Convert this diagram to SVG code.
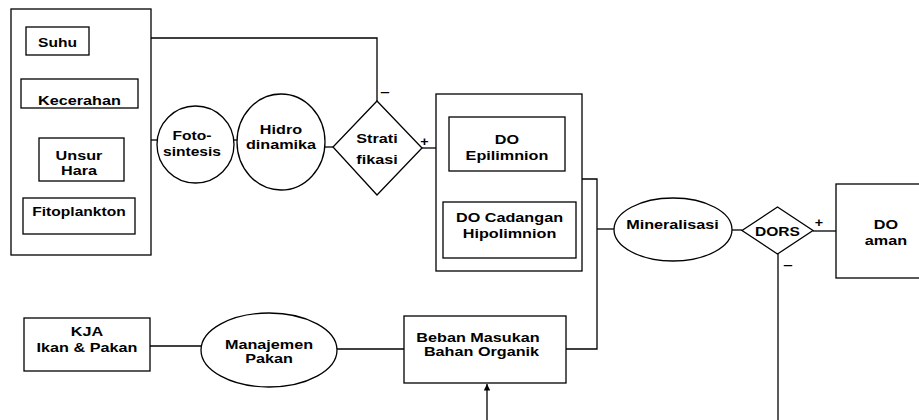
<svg xmlns="http://www.w3.org/2000/svg" width="919" height="420" viewBox="0 0 919 420">
<defs>
<style>
.s{fill:none;stroke:#000;stroke-width:1.3}
.b{fill:#fff;stroke:#000;stroke-width:1.3}
text{font-family:"Liberation Sans",Arial,sans-serif;font-weight:bold;font-size:12px;fill:#000;text-anchor:middle}
.sg{font-size:13px}
</style>
<marker id="ah" viewBox="0 0 10 10" refX="10" refY="5" markerWidth="5" markerHeight="5" orient="auto"><path d="M0,0 L10,5 L0,10 z" fill="#000"/></marker>
</defs>
<rect width="919" height="420" fill="#fff"/>
<g id="connectors" class="s">
<polyline points="89,38 377,38 377,101"/>
<line x1="151" y1="140" x2="157" y2="140"/>
<line x1="233" y1="140" x2="238" y2="140"/>
<line x1="325" y1="147" x2="334" y2="147"/>
<line x1="422" y1="148" x2="436" y2="148"/>
<polyline points="582,179 597,179 597,349 566,349"/>
<line x1="597" y1="229" x2="614" y2="229"/>
<line x1="732" y1="230" x2="742" y2="230"/>
<line x1="813" y1="231" x2="836" y2="231"/>
<line x1="778" y1="254" x2="778" y2="420"/>
<line x1="150" y1="346" x2="201" y2="346"/>
<line x1="337" y1="349" x2="404" y2="349"/>
<line x1="487" y1="420" x2="487" y2="384" marker-end="url(#ah)"/>
</g>
<g id="faktor">
<rect class="b" x="11" y="9" width="140" height="246"/>
</g>
<g id="suhu"><rect class="b" x="26" y="27" width="63" height="28"/>
<text transform="translate(57.5,46.5) scale(1.3,1)">Suhu</text></g>
<g id="kecerahan"><rect class="b" x="21" y="79" width="117" height="29"/>
<text transform="translate(79.5,105) scale(1.35,1)">Kecerahan</text></g>
<g id="unsurhara"><rect class="b" x="39" y="138" width="85" height="43"/>
<text transform="translate(79,160) scale(1.35,1)">Unsur</text>
<text transform="translate(79,175) scale(1.35,1)">Hara</text></g>
<g id="fitoplankton"><rect class="b" x="23" y="198" width="112" height="36"/>
<text transform="translate(79,216) scale(1.3,1)">Fitoplankton</text></g>
<g id="fotosintesis"><circle class="b" cx="195.5" cy="144.5" r="38.5"/>
<text transform="translate(192,140) scale(1.3,1)">Foto-</text>
<text transform="translate(192,156) scale(1.3,1)">sintesis</text></g>
<g id="hidrodinamika"><ellipse class="b" cx="281" cy="142" rx="44" ry="48"/>
<text transform="translate(281,134) scale(1.35,1)">Hidro</text>
<text transform="translate(281,149) scale(1.35,1)">dinamika</text></g>
<g id="stratifikasi"><polygon class="b" points="377,101 422,148 377,195 333,147"/>
<text transform="translate(377,143) scale(1.35,1)">Strati</text>
<text transform="translate(377,164) scale(1.35,1)">fikasi</text>
<text class="sg" transform="translate(385,96) scale(1.3,1)">–</text>
<text class="sg" transform="translate(424.5,146) scale(1.1,1)">+</text></g>
<g id="do">
<rect class="b" x="436" y="94" width="146" height="177"/>
</g>
<g id="epilimnion"><rect class="b" x="449" y="117" width="116" height="54"/>
<text transform="translate(507,144) scale(1.35,1)">DO</text>
<text transform="translate(507,160) scale(1.35,1)">Epilimnion</text></g>
<g id="hipolimnion"><rect class="b" x="443" y="202" width="133" height="56"/>
<text transform="translate(509.5,221.5) scale(1.35,1)">DO Cadangan</text>
<text transform="translate(509.5,238) scale(1.35,1)">Hipolimnion</text></g>
<g id="mineralisasi"><ellipse class="b" cx="673" cy="229.5" rx="59" ry="31.5"/>
<text transform="translate(672.5,229) scale(1.35,1)">Mineralisasi</text></g>
<g id="dors"><polygon class="b" points="777.5,207 813,230.5 777.5,254 742,230.5"/>
<text transform="translate(777.5,236) scale(1.3,1)">DORS</text>
<text class="sg" transform="translate(819,227) scale(1.1,1)">+</text>
<text class="sg" transform="translate(788,269) scale(1.3,1)">–</text></g>
<g id="doaman"><rect class="b" x="836" y="184" width="100" height="94"/>
<text transform="translate(886,229) scale(1.35,1)">DO</text>
<text transform="translate(886,245) scale(1.35,1)">aman</text></g>
<g id="kja"><rect class="b" x="24" y="318" width="126" height="53"/>
<text transform="translate(87,335.5) scale(1.35,1)">KJA</text>
<text transform="translate(87,351.5) scale(1.35,1)">Ikan &amp; Pakan</text></g>
<g id="manajemen"><ellipse class="b" cx="269" cy="350" rx="68" ry="37"/>
<text transform="translate(269,349) scale(1.35,1)">Manajemen</text>
<text transform="translate(269,363) scale(1.35,1)">Pakan</text></g>
<g id="beban"><rect class="b" x="404" y="316" width="162" height="67"/>
<text transform="translate(478,341.5) scale(1.35,1)">Beban Masukan</text>
<text transform="translate(481.5,355.5) scale(1.35,1)">Bahan Organik</text></g>
</svg>
